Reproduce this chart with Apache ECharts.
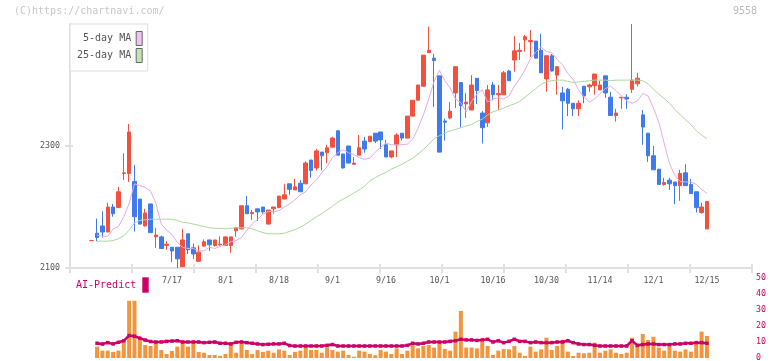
<!DOCTYPE html>
<html><head><meta charset="utf-8">
<style>html,body{margin:0;padding:0;background:#fff;}#c{width:772px;height:361px;}</style>
<script src="https://cdn.jsdelivr.net/npm/echarts@6.0.0/dist/echarts.min.js"></script>
</head><body><div id="c"></div>
<script>
const dates = ['6/26','6/27','6/30','7/1','7/2','7/3','7/4','7/7','7/8','7/9','7/10','7/11','7/14','7/15','7/16','7/17','7/18','7/22','7/23','7/24','7/25','7/28','7/29','7/30','7/31','8/1','8/4','8/5','8/6','8/7','8/8','8/12','8/13','8/14','8/15','8/18','8/19','8/20','8/21','8/22','8/25','8/26','8/27','8/28','8/29','9/1','9/2','9/3','9/4','9/5','9/8','9/9','9/10','9/11','9/12','9/16','9/17','9/18','9/19','9/22','9/24','9/25','9/26','9/29','9/30','10/1','10/2','10/3','10/6','10/7','10/8','10/9','10/10','10/14','10/15','10/16','10/17','10/20','10/21','10/22','10/23','10/24','10/27','10/28','10/29','10/30','10/31','11/4','11/5','11/6','11/7','11/10','11/11','11/12','11/13','11/14','11/17','11/18','11/19','11/20','11/21','11/25','11/26','11/27','11/28','12/1','12/2','12/3','12/4','12/5','12/8','12/9','12/10','12/11','12/12','12/15'];
const dateLabels = ['7/17','8/1','8/18','9/1','9/16','10/1','10/16','10/30','11/14','12/1','12/15'];
const opens = [2145,2157,2169,2159,2200,2199,2255,2255,2242,2213,
2169,2205,2151,2151,2137,2134,2134,2102,2156,2133,
2111,2136,2146,2137,2138,2137,2137,2161,2164,2202,
2189,2197,2200,2172,2197,2199,2213,2238,2228,2239,
2238,2277,2264,2290,2289,2298,2325,2287,2300,2270,
2285,2308,2307,2321,2323,2302,2282,2302,2321,2313,
2349,2375,2398,2453,2444,2415,2341,2346,2387,2404,
2369,2359,2411,2354,2338,2400,2384,2384,2423,2441,
2455,2474,2471,2472,2457,2410,2448,2416,2387,2393,
2370,2361,2398,2397,2399,2392,2415,2380,2350,2379,
2380,2393,2402,2351,2321,2284,2262,2237,2244,2241,
2235,2256,2237,2225,2191,2164];
const closes = [2145,2150,2159,2200,2189,2225,2256,2323,2184,2172,
2190,2158,2154,2132,2139,2128,2115,2146,2130,2123,
2126,2143,2138,2146,2139,2151,2151,2166,2202,2189,
2191,2192,2192,2195,2200,2218,2220,2229,2233,2225,
2272,2260,2292,2284,2297,2313,2285,2264,2272,2272,
2297,2295,2316,2308,2310,2282,2292,2318,2313,2349,
2375,2400,2449,2457,2440,2290,2339,2357,2430,2366,
2372,2400,2391,2330,2392,2384,2386,2420,2407,2456,
2457,2479,2473,2444,2420,2448,2423,2430,2374,2370,
2361,2370,2382,2400,2418,2400,2387,2350,2354,2380,
2377,2408,2411,2331,2284,2261,2237,2240,2238,2235,
2255,2235,2222,2199,2200,2209];
const lows = [2145,2144,2150,2159,2184,2199,2244,2241,2160,2172,
2168,2158,2133,2132,2130,2110,2100,2102,2123,2115,
2111,2135,2128,2135,2136,2137,2125,2151,2164,2189,
2179,2177,2189,2172,2189,2199,2213,2220,2228,2225,
2238,2248,2260,2260,2272,2298,2285,2263,2272,2269,
2285,2289,2307,2305,2295,2282,2280,2282,2309,2313,
2349,2375,2398,2453,2364,2290,2309,2344,2362,2331,
2346,2359,2369,2304,2331,2375,2359,2384,2407,2422,
2441,2455,2446,2444,2420,2389,2422,2384,2327,2349,
2349,2349,2370,2389,2384,2392,2379,2350,2340,2361,
2361,2387,2398,2302,2274,2261,2237,2235,2228,2205,
2210,2235,2222,2191,2189,2164];
const highs = [2145,2181,2193,2207,2205,2233,2288,2336,2269,2213,
2197,2205,2166,2153,2144,2134,2134,2164,2156,2140,
2137,2147,2146,2146,2152,2151,2151,2166,2202,2218,
2195,2197,2200,2195,2200,2218,2238,2238,2246,2244,
2275,2277,2295,2290,2302,2315,2326,2287,2300,2282,
2318,2315,2316,2321,2323,2310,2292,2321,2321,2349,
2375,2400,2449,2496,2451,2415,2345,2372,2430,2404,
2387,2416,2411,2357,2400,2405,2400,2423,2425,2480,
2469,2482,2490,2472,2484,2448,2451,2430,2397,2395,
2370,2375,2398,2402,2418,2407,2415,2389,2361,2380,
2385,2500,2420,2359,2321,2300,2262,2248,2248,2241,
2261,2270,2246,2225,2207,2209];
const ma5 = ['-',2154,2152,2152,2164,2168,2184,2206,2238,2235,
2232,2226,2206,2172,2162,2155,2142,2134,2132,2132,
2128,2128,2134,2132,2135,2138,2143,2145,2150,2162,
2172,2180,2188,2193,2192,2194,2200,2205,2212,2220,
2225,2236,2244,2256,2266,2281,2289,2294,2289,2286,
2281,2278,2280,2290,2298,2305,2302,2302,2302,2303,
2311,2329,2351,2377,2406,2424,2407,2395,2377,2371,
2356,2373,2385,2392,2372,2377,2379,2377,2382,2398,
2410,2425,2443,2454,2462,2455,2453,2442,2433,2419,
2409,2392,2381,2372,2377,2386,2394,2398,2391,2382,
2374,2370,2374,2386,2382,2362,2339,2305,2271,2252,
2242,2241,2241,2237,2229,2222];
const ma25 = ['-',2144,2144,2144,2145,2148,2153,2162,2174,2178,
2179,2180,2180,2180,2180,2180,2178,2175,2174,2172,
2170,2168,2166,2165,2165,2164,2165,2166,2166,2166,
2164,2161,2158,2156,2156,2156,2157,2160,2163,2167,
2172,2178,2184,2189,2195,2201,2208,2213,2218,2223,
2228,2234,2243,2248,2253,2257,2262,2266,2270,2275,
2280,2287,2294,2303,2312,2317,2321,2325,2327,2330,
2333,2335,2340,2344,2351,2356,2359,2362,2366,2369,
2373,2380,2387,2394,2401,2405,2407,2408,2408,2406,
2404,2405,2406,2407,2408,2408,2408,2407,2408,2408,
2408,2408,2408,2407,2402,2393,2385,2378,2370,2360,
2351,2343,2335,2325,2318,2312];
const volume = ['-',7.1,4.6,4.6,3.8,4.6,10.2,40,40,11.3,
8.1,7.5,9.2,5,2.5,4.4,7.1,9.6,7.1,9.2,
3.8,3.3,1.9,1.9,1.3,2.5,8.3,3.3,8.8,5,
2.5,5,3.8,4.6,3.3,5.4,4.6,1.9,3.8,4.6,
6.7,5,5,3.3,6.7,5,4,4.6,1.9,0.8,
4.6,4,2.5,1.7,5,4,2.5,6,2.5,4.6,
8.1,6,7.5,8.1,6.5,9.2,5.6,4.6,16.5,29.4,
6.5,6.5,6,10.2,7.5,1.9,4.6,5.6,5.4,7.5,
3.3,1.3,7.1,4,5.4,12.7,5,7.5,11.3,4,
1.3,3.3,2.9,3.3,9.6,3.3,4.6,5.4,3.3,2.5,
3.3,12.7,8.1,15,11.3,13.3,6.5,4.6,7.5,4.6,
4,5.4,4,9.2,16.5,13.8];
const aiPredict = ['-',9.2,8.7,9.6,8.8,9.8,10.8,14,13.6,12.4,
11.2,10.3,10,10,10.4,10.6,10.8,10,10,10,
10,9.6,9.8,10,9.2,9.2,8.8,9.8,10,9.6,
9.2,8.8,8.4,8.6,8.8,8.8,9.2,7.8,7.5,7.5,
7.5,7.5,7.5,7.5,7.9,8.4,7.5,7.5,7.5,7.5,
7.5,7.5,7.5,7.5,7.5,7.5,7.5,7.5,7.5,7.9,
9.2,8.8,9.2,10,10,10,10,10.4,10.8,11.7,
11.3,11.3,11,11.3,11.7,10,10.8,9.6,10.4,11.7,
10.4,10.4,9.6,10,9.6,9.6,9.6,10,10,10.8,
9.6,8.8,8.4,8.4,7.9,7.5,7.5,7.5,7.5,7.5,
7.5,10.8,7.9,8.4,8.8,8.8,8.4,8.4,8.4,8.8,
8.8,9.2,9.2,9.6,9.6,9.2];
const priceTicks = [2100, 2300];

const MONO = '"DejaVu Sans Mono", "Liberation Mono", monospace';
const AXIS = '#e0e0e0';
const MAG = '#cc0066';
const candles = dates.map((d, i) => [opens[i], closes[i], lows[i], highs[i]]);

const chart = echarts.init(document.getElementById('c'), null, {renderer: 'canvas'});
const dataGrid = {left: 89.025, width: 620.6};
chart.setOption({
  animation: false,
  backgroundColor: '#fff',
  textStyle: {fontFamily: MONO},
  grid: [
    {left: 70, top: 24, width: 682, height: 244, outerBoundsMode: 'none'},
    {left: dataGrid.left, top: 24, width: dataGrid.width, height: 244, outerBoundsMode: 'none'},
    {left: dataGrid.left, top: 300.7, width: dataGrid.width, height: 57.3, outerBoundsMode: 'none'},
    {left: dataGrid.left, top: 278, width: dataGrid.width, height: 80, outerBoundsMode: 'none'}
  ],
  legend: {
    left: 70, top: 24, orient: 'vertical', align: 'right', icon: 'rect',
    padding: [7, 5, 8, 7], itemGap: 2, itemWidth: 6, itemHeight: 14,
    backgroundColor: '#fff', borderColor: '#dddddd', borderWidth: 1, borderRadius: 0,
    itemStyle: {borderColor: '#666', borderWidth: 1},
    textStyle: {fontFamily: MONO, fontSize: 10, color: '#555'},
    formatter: n => n.padStart(9, ' '),
    data: [
      {name: '5-day MA', itemStyle: {color: '#f0c4f0'}},
      {name: '25-day MA', itemStyle: {color: '#c4e4b4'}}
    ],
    selectedMode: false
  },
  xAxis: [
    {gridIndex: 0, type: 'value', min: 0, max: 11, interval: 1, position: 'bottom',
      axisLine: {show: true, onZero: false, lineStyle: {color: AXIS, width: 2}},
      axisTick: {show: true, length: 5, lineStyle: {color: AXIS, width: 2}},
      axisLabel: {show: false}, splitLine: {show: false}},
    {gridIndex: 0, type: 'value', min: 0, max: 11, interval: 1, position: 'bottom', offset: 0,
      axisLine: {show: false, onZero: false},
      axisTick: {show: true, inside: true, length: 4, lineStyle: {color: AXIS, width: 2}},
      axisLabel: {show: false}, splitLine: {show: false}},
    {gridIndex: 1, type: 'category', data: dates, boundaryGap: true,
      axisLine: {show: false, onZero: false}, axisTick: {show: false}, splitLine: {show: false},
      axisLabel: {interval: (idx, val) => dateLabels.includes(val),
        color: '#555', fontSize: 8.3, fontFamily: MONO, margin: 9}},
    {gridIndex: 2, type: 'category', data: dates, boundaryGap: true, show: false},
    {gridIndex: 3, type: 'category', data: dates, boundaryGap: true, show: false}
  ],
  yAxis: [
    {gridIndex: 0, type: 'value', min: 2100, max: 2500, position: 'left',
      axisLine: {show: true, onZero: false, lineStyle: {color: AXIS, width: 2}},
      axisTick: {show: true, length: 5, customValues: priceTicks, lineStyle: {color: AXIS, width: 2}},
      axisLabel: {customValues: priceTicks, formatter: v => String(v), color: '#555',
        fontSize: 8.3, fontFamily: MONO, margin: 10},
      splitLine: {show: false}},
    {gridIndex: 0, type: 'value', min: 2100, max: 2500, position: 'left', offset: 0,
      axisLine: {show: false, onZero: false},
      axisTick: {show: true, inside: true, length: 3, customValues: priceTicks, lineStyle: {color: AXIS, width: 2}},
      axisLabel: {show: false}, splitLine: {show: false}},
    {gridIndex: 1, type: 'value', min: 2100, max: 2500, show: false, splitLine: {show: false}},
    {gridIndex: 2, type: 'value', min: 0, max: 35.8, show: false, splitLine: {show: false}},
    {gridIndex: 3, type: 'value', min: 0, max: 50, interval: 10, position: 'right',
      axisLine: {show: false}, axisTick: {show: false}, splitLine: {show: false},
      axisLabel: {color: MAG, fontSize: 8.3, fontFamily: MONO, margin: 46.4}}
  ],
  graphic: [
    {type: 'text', left: 14, top: 6, silent: true,
      style: {text: '(C)https://chartnavi.com/', fill: '#c8c8c8', font: '10px ' + MONO}},
    {type: 'text', right: 15, top: 6, silent: true,
      style: {text: '9558', fill: '#bbbbbb', font: '10px ' + MONO}},
    {type: 'text', left: 76, top: 280.5, silent: true,
      style: {text: 'AI-Predict', fill: MAG, font: '10px ' + MONO}},
    {type: 'rect', left: 142.3, top: 277.3, silent: true,
      shape: {width: 6.4, height: 15.4}, style: {fill: MAG}}
  ],
  series: [
    {name: 'price', type: 'candlestick', xAxisIndex: 2, yAxisIndex: 2, data: candles,
      barWidth: 4, clip: false,
      itemStyle: {color: '#f2513f', color0: '#3f7bec', borderColor: '#f2513f', borderColor0: '#3f7bec',
        borderColorDoji: '#f2513f', borderWidth: 1}},
    {name: '5-day MA', type: 'line', xAxisIndex: 2, yAxisIndex: 2, data: ma5, symbol: 'none',
      lineStyle: {color: '#e4aae8', width: 1}, itemStyle: {color: '#e4aae8'}},
    {name: '25-day MA', type: 'line', xAxisIndex: 2, yAxisIndex: 2, data: ma25, symbol: 'none',
      lineStyle: {color: '#acd89e', width: 1}, itemStyle: {color: '#acd89e'}},
    {name: 'volume', type: 'bar', xAxisIndex: 3, yAxisIndex: 3, data: volume, barWidth: 4,
      itemStyle: {color: '#f0963e'}},
    {name: 'AI-Predict', type: 'line', xAxisIndex: 4, yAxisIndex: 4, data: aiPredict,
      symbol: 'rect', symbolSize: 3.5, showSymbol: true,
      lineStyle: {color: MAG, width: 2.5}, itemStyle: {color: MAG}}
  ]
});
</script>
</body></html>
